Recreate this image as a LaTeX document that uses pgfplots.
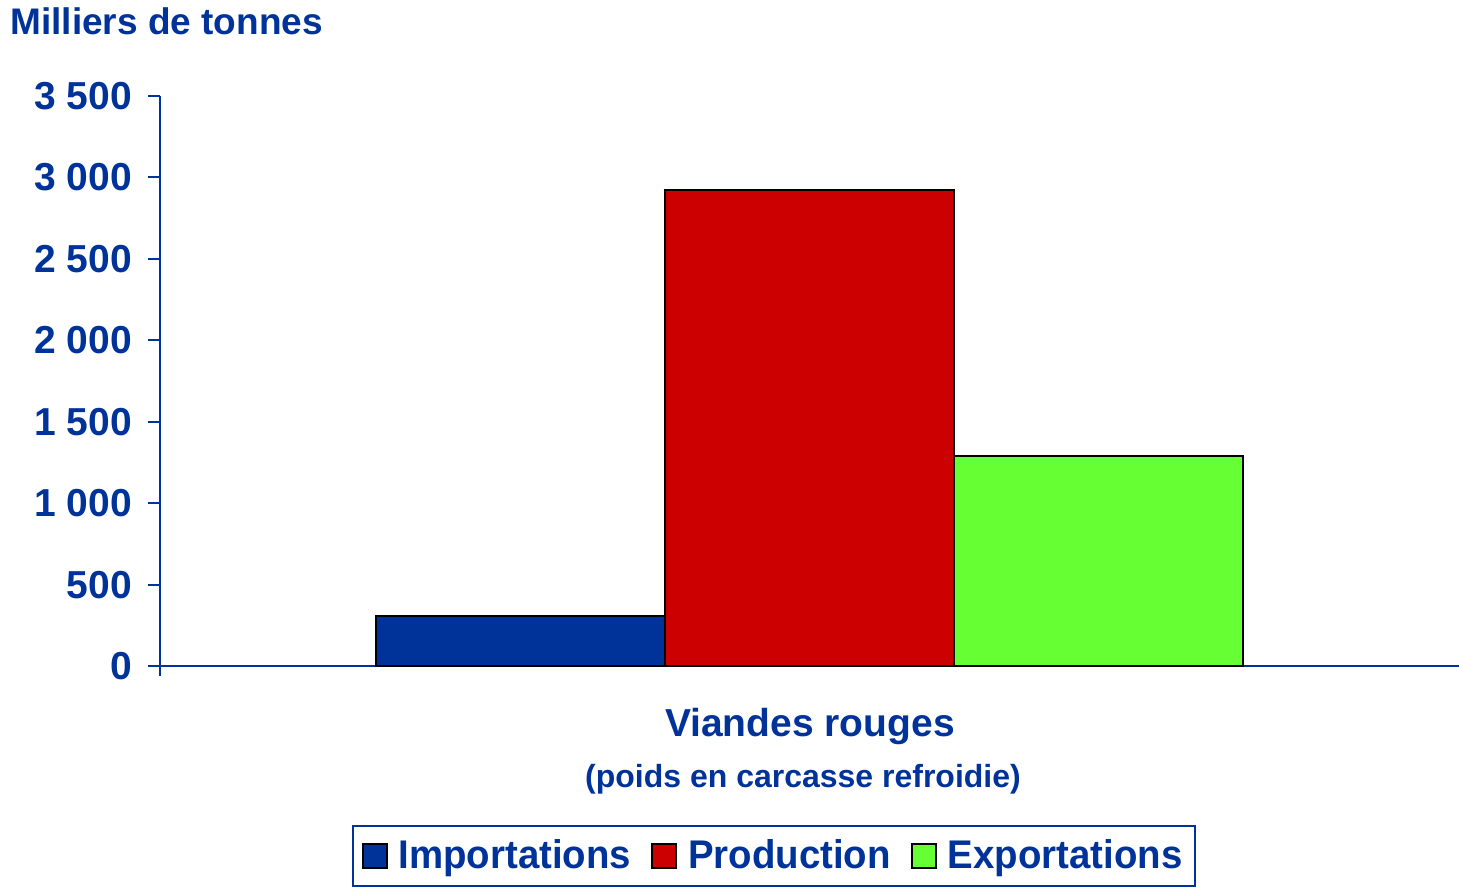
\documentclass[border=0pt]{standalone}
\usepackage{fontspec}
\setmainfont{Liberation Sans}
\newfontfamily\legfont{Liberation Sans}[FakeStretch=0.96]
\usepackage{pgfplots}
\pgfplotsset{compat=1.18}
\definecolor{txtblue}{HTML}{003399}
\definecolor{barblue}{HTML}{003399}
\definecolor{barred}{HTML}{CC0000}
\definecolor{bargreen}{HTML}{66FF33}

\begin{document}
\begin{tikzpicture}
\useasboundingbox (0,0) rectangle (729.5pt,-445pt);
\node[anchor=base west, inner sep=0, font=\bfseries\fontsize{18.5}{20}\selectfont, text=txtblue]
  at (5pt,-17pt) {Milliers de tonnes};

\begin{axis}[
    at={(80pt,-333pt)}, anchor=south west, scale only axis,
    width=649.5pt, height=285pt,
    ybar, bar width=1,
    xmin=-2.246, xmax=2.249, ymin=0, ymax=3500,
    axis lines*=left,
    axis line style={txtblue, line width=1pt},
    y axis line style={shorten <=-5pt},
    xtick=\empty,
    ytick={0,500,...,3500},
    tick style={txtblue, line width=1pt},
    tick align=outside, major tick length=6pt,
    yticklabel style={font=\bfseries\fontsize{19.5}{20}\selectfont, text=txtblue, xshift=-4.5pt},
    /pgf/number format/assume math mode=true,
    /pgf/number format/1000 sep={\ },
    legend columns=3,
    legend style={at={(0.4727,-0.3333)}, anchor=center, draw=txtblue, line width=1pt,
        font=\legfont\bfseries\fontsize{20}{22}\selectfont, text=txtblue,
        inner xsep=4.5pt, inner ysep=5pt,
        /tikz/every odd column/.append style={column sep=3.5pt},
        /tikz/every even column/.append style={column sep=8pt}},
    legend image code/.code={\draw[#1, line width=1pt] (0pt,-6pt) rectangle (12pt,6pt);},
]
\addplot[fill=barblue, draw=black, line width=1pt, bar shift=0pt] coordinates {(-1,310)};
\addplot[fill=barred, draw=black, line width=1pt, bar shift=0pt] coordinates {(0,2920)};
\addplot[fill=bargreen, draw=black, line width=1pt, bar shift=0pt] coordinates {(1,1290)};
\legend{Importations, Production, Exportations}
\end{axis}

\node[anchor=base, font=\bfseries\fontsize{19.5}{20}\selectfont, text=txtblue]
  at (405pt,-368pt) {Viandes rouges};
\node[anchor=base, font=\bfseries\fontsize{16}{18}\selectfont, text=txtblue]
  at (401.5pt,-393.5pt) {(poids en carcasse refroidie)};
\end{tikzpicture}
\end{document}
